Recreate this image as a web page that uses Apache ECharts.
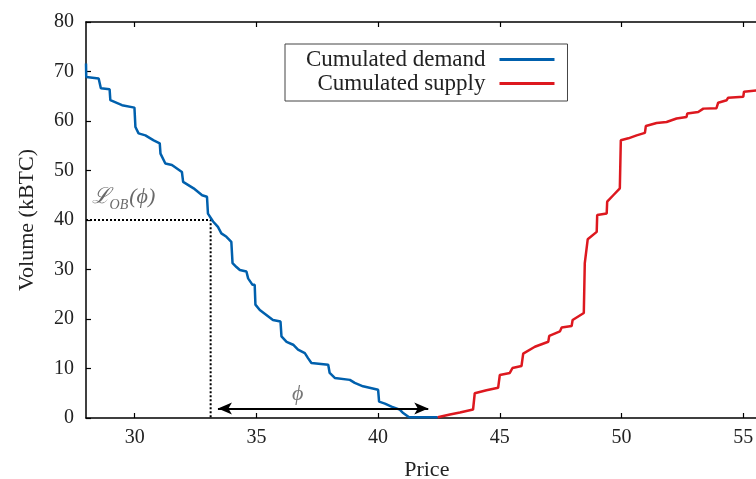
<!DOCTYPE html>
<html>
<head>
<meta charset="utf-8">
<script src="https://cdn.jsdelivr.net/npm/echarts@6/dist/echarts.min.js"></script>
<style>html,body{margin:0;padding:0;background:#fff}#c{width:756px;height:479px}</style>
</head>
<body>
<div id="c"></div>
<script>
// Cumulated demand (price, kBTC)
const demandPrice = [28.0,28.01,28.52,28.61,28.97,29.0,29.48,29.99,30.03,30.16,30.44,30.78,31.03,31.06,31.26,31.53,31.94,31.99,32.42,32.77,32.97,33.01,33.22,33.42,33.56,33.77,33.97,34.02,34.18,34.32,34.59,34.66,34.84,34.93,34.96,35.14,35.41,35.68,35.99,36.03,36.24,36.51,36.71,36.99,37.12,37.26,37.95,38.01,38.22,38.84,39.04,39.38,40.0,40.04,40.28,40.55,40.89,41.03,41.27,42.45];
const demandVol = [71.6,68.9,68.6,66.6,66.4,64.2,63.2,62.7,58.8,57.5,57.1,56.1,55.5,53.4,51.4,51.1,49.7,47.7,46.4,45.0,44.7,41.3,39.7,38.6,37.3,36.6,35.6,31.3,30.5,29.9,29.6,28.2,26.9,26.9,22.9,21.8,20.8,19.8,19.5,16.5,15.4,14.8,13.8,13.1,12.1,11.1,10.75,9.1,8.1,7.7,7.1,6.4,5.7,3.3,2.9,2.3,1.7,1.0,0.15,0.15];
// Cumulated supply (price, kBTC)
const supplyPrice = [42.45,42.95,43.36,43.9,43.97,44.45,44.93,45.0,45.41,45.52,45.89,45.96,46.44,46.99,47.03,47.47,47.54,47.95,47.99,48.45,48.49,48.56,48.61,48.98,49.0,49.39,49.41,49.66,49.93,49.97,50.28,50.62,50.96,51.0,51.44,51.85,52.26,52.67,52.7,53.15,53.36,53.9,53.97,54.32,54.38,55.0,55.03,55.6];
const supplyVol = [0.15,0.7,1.1,1.7,5.0,5.6,6.1,8.7,9.1,10.1,10.5,13.0,14.4,15.4,16.6,17.5,18.3,18.6,19.8,21.2,31.3,31.6,36.1,37.6,41.0,41.3,43.7,45.0,46.4,56.1,56.5,57.1,57.6,59.0,59.6,59.8,60.5,60.8,61.5,61.8,62.5,62.6,63.7,64.2,64.7,64.9,65.9,66.2];
const xTicks = [30,35,40,45,50,55];
const liquidityLevel = 40;
const phiStart = 33.12;
const arrowFrom = 33.42, arrowTo = 42.06, arrowY = 1.9;

const zip = (a,b) => a.map((v,i)=>[v,b[i]]);
const F = 'Liberation Serif';
const chart = echarts.init(document.getElementById('c'));
chart.setOption({
  animation:false,
  backgroundColor:'#fff',
  grid:{left:86,top:22,bottom:61,right:-11.6,containLabel:false,outerBoundsMode:'none'},
  legend:{
    data:['Cumulated demand','Cumulated supply'],
    orient:'vertical', align:'right', left:285, top:44,
    padding:[4,13,6,21], itemGap:1, itemWidth:55, itemHeight:3, icon:'rect',
    borderColor:'#444', borderWidth:1, backgroundColor:'#fff',
    textStyle:{fontFamily:F,fontSize:23,color:'#222',lineHeight:22,padding:[0,9,0,0]}
  },
  xAxis:[{
    type:'value',min:28,max:56,position:'bottom',
    axisLine:{lineStyle:{color:'#000',width:1.5}},
    axisTick:{inside:true,length:5,customValues:xTicks,lineStyle:{color:'#000',width:1.2}},
    axisLabel:{customValues:xTicks,fontFamily:F,fontSize:20,color:'#222',margin:10},
    splitLine:{show:false},
    name:'Price',nameLocation:'middle',nameGap:41,
    nameTextStyle:{fontFamily:F,fontSize:22,color:'#222'}
  },{
    type:'value',min:28,max:56,position:'top',
    axisLine:{show:true,lineStyle:{color:'#000',width:1.5}},
    axisTick:{show:true,inside:true,length:5,customValues:xTicks,lineStyle:{color:'#000',width:1.2}},
    axisLabel:{show:false},splitLine:{show:false}
  }],
  yAxis:{
    type:'value',min:0,max:80,interval:10,
    axisLine:{show:true,lineStyle:{color:'#000',width:1.5}},
    axisTick:{show:true,inside:true,length:5,lineStyle:{color:'#000',width:1.2}},
    axisLabel:{fontFamily:F,fontSize:20,color:'#222',margin:12},
    splitLine:{show:false},
    name:'Volume (kBTC)',nameLocation:'middle',nameGap:48,
    nameTextStyle:{fontFamily:F,fontSize:22,color:'#222'}
  },
  series:[
    {name:'guide',type:'line',data:[[28,liquidityLevel],[phiStart,liquidityLevel],[phiStart,0]],
     symbol:'none',lineStyle:{color:'#000',width:2,type:[2,2]},z:1,silent:true},
    {name:'Cumulated demand',type:'line',data:zip(demandPrice,demandVol),
     symbol:'none',lineStyle:{color:'#0060ad',width:2.5},itemStyle:{color:'#0060ad'},z:3},
    {name:'Cumulated supply',type:'line',data:zip(supplyPrice,supplyVol),
     symbol:'none',lineStyle:{color:'#dd181f',width:2.5},itemStyle:{color:'#dd181f'},z:3},
    {name:'arrow',type:'line',data:[],symbol:'none',
     markLine:{silent:true,symbol:['arrow','arrow'],symbolSize:[9,14],
       lineStyle:{color:'#000',width:2,type:'solid'},label:{show:false},
       data:[[{coord:[arrowFrom,arrowY]},{coord:[arrowTo,arrowY]}]]}},
    {name:'labels',type:'scatter',symbolSize:0,silent:true,
     data:[
       {value:[36.7,4.9],label:{show:true,position:'inside',formatter:'ϕ',fontFamily:F,fontStyle:'italic',fontSize:22,color:'#555'}},
       {value:[28.23,44.6],label:{show:true,position:'right',distance:0,
          formatter:'{a|ℒ}{b|OB}{a|(ϕ)}',
          rich:{a:{fontFamily:F,fontSize:22,color:'#444',lineHeight:30,verticalAlign:'middle',fontStyle:'italic'},
                b:{fontFamily:F,fontSize:14,color:'#444',lineHeight:30,verticalAlign:'bottom',fontStyle:'italic',padding:[0,1,0,0]}}}}
     ]}
  ]
});
</script>
</body>
</html>
